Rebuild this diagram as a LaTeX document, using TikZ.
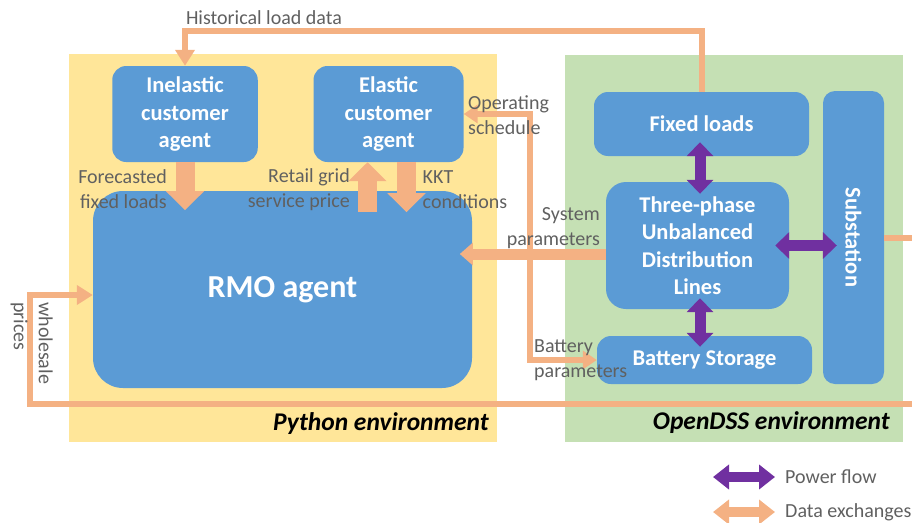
\documentclass[tikz,border=0pt]{standalone}
\usepackage{fontspec}
\usepackage{graphicx}
\setmainfont{Carlito}
\usetikzlibrary{arrows.meta}

\definecolor{envyellow}{HTML}{FFE699}
\definecolor{envgreen}{HTML}{C5E0B4}
\definecolor{boxblue}{HTML}{5B9BD5}
\definecolor{dataorange}{HTML}{F4B183}
\definecolor{powerpurple}{HTML}{7030A0}
\definecolor{labelgray}{HTML}{606060}

\newcommand{\boxfont}{\fontsize{22.5}{27.5}\selectfont\bfseries}
\newcommand{\rmofont}{\fontsize{32}{38}\selectfont\bfseries}
\newcommand{\lblfont}{\fontsize{20}{25}\selectfont}
\newcommand{\envfont}{\fontsize{25.5}{30}\selectfont\bfseries\itshape}

\tikzset{
  env/.style={rectangle, fill=#1, inner sep=0pt},
  agent/.style={rectangle, rounded corners=14pt, fill=boxblue, text=white,
    font=\boxfont, align=center, inner sep=0pt},
  lbl/.style={text=labelgray, font=\lblfont, inner sep=0pt},
  envlbl/.style={font=\envfont, inner sep=0pt},
  dataline/.style={draw=dataorange, line width=6pt},
  data/.style={dataline, -{Triangle[width=19pt,length=16pt]}},
  datatwo/.style={dataline, {Triangle[width=18pt,length=14pt]}-{Triangle[width=18pt,length=14pt]}},
  bigdata/.style={draw=dataorange, line width=19pt, -{Triangle[width=37pt,length=19pt]}},
  sysdata/.style={draw=dataorange, line width=11pt, -{Triangle[width=22pt,length=13pt]}},
  power/.style={draw=powerpurple, line width=11pt,
    {Triangle[width=26pt,length=14pt]}-{Triangle[width=26pt,length=14pt]}},
  keyarrow/.style={draw=#1, line width=10pt,
    {Triangle[width=24pt,length=16pt]}-{Triangle[width=24pt,length=16pt]}}
}

\begin{document}
\begin{tikzpicture}[x=1pt, y=-1pt]
  \useasboundingbox (0,0) rectangle (912,522);

  % environments
  \node[env=envyellow, minimum width=428pt, minimum height=388pt] at (283,248) (python) {};
  \node[env=envgreen, minimum width=338pt, minimum height=387pt] at (734,248.5) (opendss) {};
  \node[envlbl, anchor=east] at (489,424) (pylbl) {Python environment};
  \node[envlbl, anchor=east] at (890,423) (dsslbl) {OpenDSS environment};

  % agents
  \node[agent, minimum width=145.5pt, minimum height=96pt] at (185,114) (inelastic) {Inelastic\\customer\\agent};
  \node[agent, minimum width=150pt, minimum height=96pt] at (388.5,114) (elastic) {Elastic\\customer\\agent};
  \node[agent, rounded corners=30pt, minimum width=379pt, minimum height=197pt, font=\rmofont] at (282.5,289.5) (rmo) {RMO agent};

  % grid side
  \node[agent, minimum width=215pt, minimum height=64pt] at (701.5,124) (fixed) {Fixed loads};
  \node[agent, rounded corners=20pt, minimum width=183pt, minimum height=127pt] at (697.5,245.5) (lines) {Three-phase\\Unbalanced\\Distribution\\Lines};
  \node[agent, minimum width=215pt, minimum height=48pt] at (704.5,360) (battery) {Battery Storage};
  \node[agent, rounded corners=12pt, minimum width=61pt, minimum height=293pt] at (853.5,237.5) (substation) {\rotatebox{-90}{Substation}};

  % data exchanges
  \draw[data] (fixed.north) -- ++(0,-61) -| (inelastic.north);
  \draw[bigdata] (inelastic.south) -- ++(0,48);
  \draw[bigdata] ([xshift=-21pt,yshift=-50pt]elastic.south) -- ([xshift=-21pt]elastic.south);
  \draw[bigdata] ([xshift=18pt]elastic.south) -- ++(0,50);
  \draw[sysdata] ([yshift=-8.5pt]lines.west) -- ++(-146,0);
  \draw[datatwo] (elastic.east) -| ([xshift=-67pt]battery.west) -- (battery.west);
  \coordinate (wsin) at (912,404);
  \draw[data] (wsin) -| ([xshift=-63pt,yshift=-5.5pt]rmo.west) -- ([yshift=-5.5pt]rmo.west);
  \coordinate (subout) at (912,237.5);
  \draw[dataline] (substation.east) -- (subout);

  % power flow
  \draw[power, shorten <=-14pt, shorten >=-12pt] ([xshift=-1.5pt]fixed.south) -- ([xshift=2.5pt]lines.north);
  \draw[power, shorten <=-11pt, shorten >=-11pt] ([xshift=2.5pt]lines.south) -- ([xshift=-4.5pt]battery.north);
  \draw[power, shorten <=-14pt, shorten >=-14pt] (lines.east) -- (lines.east -| substation.west);

  % labels
  \node[lbl] at (264,18) (histlbl) {Historical load data};
  \node[lbl, anchor=east, align=right] at (167,189.5) (fclbl) {Forecasted\\fixed loads};
  \node[lbl, anchor=east, align=right] at (350,189.5) (retlbl) {Retail grid\\service price};
  \node[lbl, anchor=west, align=left] at (422.5,189.5) (kktlbl) {KKT\\conditions};
  \node[lbl, anchor=west, align=left] at (468,115) (oplbl) {Operating\\schedule};
  \node[lbl, anchor=east, align=right] at (600,228) (syslbl) {System\\parameters};
  \node[lbl, anchor=west, align=left] at (534,360) (batlbl) {Battery\\parameters};
  \node[lbl, rotate=-90, anchor=north west, align=left] at (53,302) (wslbl) {wholesale\\prices};

  % legend
  \coordinate (pf1) at (713,477);
  \coordinate (pf2) at (775,477);
  \draw[keyarrow=powerpurple] (pf1) -- (pf2);
  \node[lbl, anchor=west] at (785,477) (pflbl) {Power flow};
  \coordinate (de1) at (713,512);
  \coordinate (de2) at (775,512);
  \draw[keyarrow=dataorange] (de1) -- (de2);
  \node[lbl, anchor=west] at (785,512) (delbl) {Data exchanges};
\end{tikzpicture}
\end{document}
